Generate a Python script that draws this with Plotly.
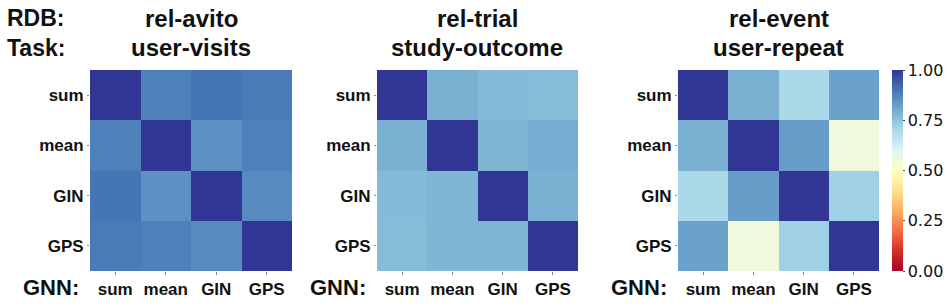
import plotly.graph_objects as go

models = ["sum", "mean", "GIN", "GPS"]
titles_rdb = ["rel-avito", "rel-trial", "rel-event"]
titles_task = ["user-visits", "study-outcome", "user-repeat"]

avito = [
    [1.00, 0.88, 0.90, 0.89],
    [0.88, 1.00, 0.85, 0.88],
    [0.90, 0.85, 1.00, 0.86],
    [0.89, 0.88, 0.86, 1.00],
]
trial = [
    [1.00, 0.79, 0.77, 0.765],
    [0.79, 1.00, 0.78, 0.80],
    [0.77, 0.78, 1.00, 0.79],
    [0.765, 0.78, 0.78, 1.00],
]
event = [
    [1.00, 0.79, 0.70, 0.82],
    [0.79, 1.00, 0.83, 0.55],
    [0.70, 0.83, 1.00, 0.72],
    [0.82, 0.55, 0.72, 1.00],
]
matrices = [avito, trial, event]
cbar_ticks = [0.0, 0.25, 0.5, 0.75, 1.0]

rdylbu = ["#a50026", "#d73027", "#f46d43", "#fdae61", "#fee090", "#ffffbf",
          "#e0f3f8", "#abd9e9", "#74add1", "#4575b4", "#313695"]
colorscale = [[i / 10, c] for i, c in enumerate(rdylbu)]

W, H = 947, 307


def px(x):
    return x / W


def py(y):
    return 1 - y / H


xdoms = [(90, 292), (377, 578), (678, 879)]
ytop, ybot = 70, 271
ydom = [py(ybot), py(ytop)]

fig = go.Figure()
bold = "Liberation Sans, Arial, sans-serif"
for i, (m, (x0, x1)) in enumerate(zip(matrices, xdoms)):
    xa = "x" if i == 0 else f"x{i+1}"
    ya = "y" if i == 0 else f"y{i+1}"
    tr = go.Heatmap(
        z=m, x=models, y=models, xaxis=xa, yaxis=ya,
        colorscale=colorscale, zmin=0, zmax=1,
        showscale=(i == 2), hoverinfo="skip",
    )
    if i == 2:
        tr.colorbar = dict(
            x=px(892), xanchor="left", xref="paper", xpad=0,
            y=(ydom[0] + ydom[1]) / 2, yanchor="middle", ypad=0,
            len=(ybot - ytop) / H, lenmode="fraction",
            thickness=11, outlinewidth=0,
            tickvals=cbar_ticks, ticktext=[f"{v:.2f}" for v in cbar_ticks],
            ticks="outside", ticklen=2, tickcolor="#444",
            tickfont=dict(family="DejaVu Sans", size=16, color="#111"),
        )
    fig.add_trace(tr)
    axkey = "" if i == 0 else str(i + 1)
    fig.update_layout(**{
        f"xaxis{axkey}": dict(
            domain=[px(x0), px(x1)], anchor=ya, showgrid=False, zeroline=False,
            ticks="outside", ticklen=3, tickcolor="#888", showline=False,
            tickfont=dict(family=bold, size=17, color="#111", weight="bold"),
        ),
        f"yaxis{axkey}": dict(
            domain=ydom, anchor=xa, showgrid=False, zeroline=False,
            autorange="reversed",
            ticks="outside", ticklen=2, tickcolor="#888", showline=False,
            tickfont=dict(family=bold, size=17, color="#111", weight="bold"),
        ),
    })
    cx = px((x0 + x1) / 2)
    fig.add_annotation(x=cx, y=py(18), xref="paper", yref="paper",
                       text=f"<b>{titles_rdb[i]}</b>", showarrow=False,
                       xanchor="center", yanchor="middle",
                       font=dict(family=bold, size=24, color="#111"))
    fig.add_annotation(x=cx, y=py(48), xref="paper", yref="paper",
                       text=f"<b>{titles_task[i]}</b>", showarrow=False,
                       xanchor="center", yanchor="middle",
                       font=dict(family=bold, size=24, color="#111"))
    fig.add_annotation(x=px(x0 - 9), y=py(287), xref="paper", yref="paper",
                       text="<b>GNN:</b>", showarrow=False,
                       xanchor="right", yanchor="middle",
                       font=dict(family=bold, size=22, color="#111"))

fig.add_annotation(x=px(5), y=py(18), xref="paper", yref="paper",
                   text="<b>RDB:</b>", showarrow=False, xanchor="left", yanchor="middle",
                   font=dict(family=bold, size=23, color="#111"))
fig.add_annotation(x=px(5), y=py(48), xref="paper", yref="paper",
                   text="<b>Task:</b>", showarrow=False, xanchor="left", yanchor="middle",
                   font=dict(family=bold, size=23, color="#111"))

fig.update_layout(width=W, height=H, margin=dict(l=0, r=0, t=0, b=0),
                  paper_bgcolor="white", plot_bgcolor="white", showlegend=False)
fig.write_html("out.html", config={"displayModeBar": False},
               post_script="document.body.style.margin='0px';document.body.style.overflow='hidden';")
